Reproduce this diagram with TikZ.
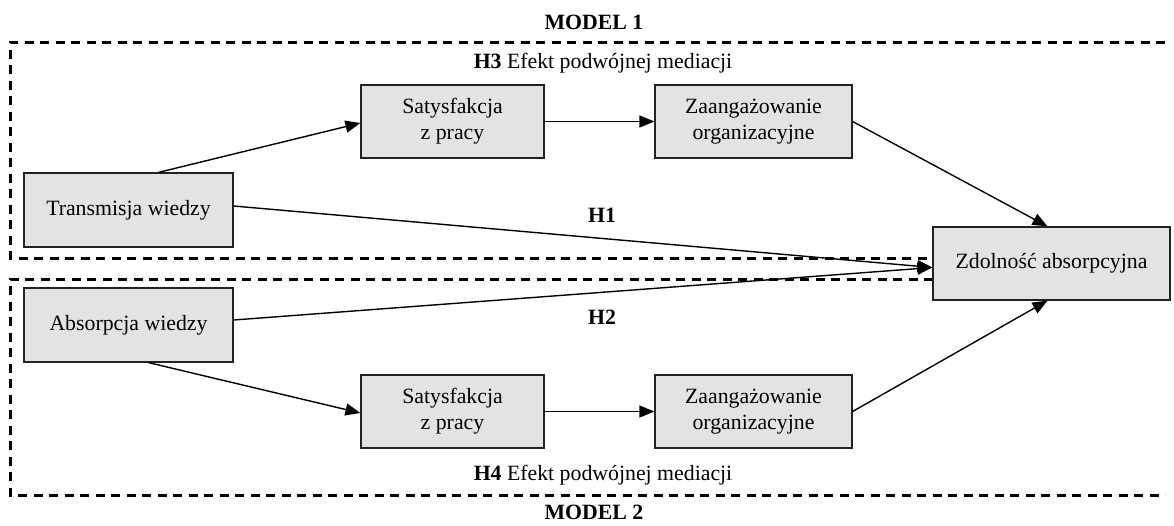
\documentclass[tikz,border=0pt]{standalone}
\usepackage{fontspec}
\setmainfont{Liberation Serif}
\usetikzlibrary{arrows.meta}
\definecolor{boxfill}{HTML}{E3E3E3}
\definecolor{boxline}{HTML}{222222}
\tikzset{
  var/.style={draw=boxline, line width=1.2pt, fill=boxfill, inner sep=0pt, align=center,
    font=\fontsize{21.8}{26}\selectfont},
  conn/.style={line width=1.4pt, -{Triangle[length=15pt,width=12pt]}},
  frame/.style={line width=3pt, dash pattern=on 9pt off 6.5pt},
  lbl/.style={inner sep=0pt, font=\fontsize{21.8}{26}\selectfont},
  blbl/.style={inner sep=0pt, font=\fontsize{21.8}{26}\selectfont\bfseries}
}
\begin{document}
\begin{tikzpicture}[x=1pt, y=-1pt]
\useasboundingbox (0,0) rectangle (1174,525);
% dashed frames
\coordinate (f1a) at (1165,42);
\coordinate (f1b) at (10,42);
\coordinate (f1c) at (10,258);
\coordinate (f1d) at (933,258);
\coordinate (f2a) at (933,279);
\coordinate (f2b) at (10,279);
\coordinate (f2c) at (10,495);
\coordinate (f2d) at (1165,495);
\draw[frame] (f1a) -- (f1b) -- (f1c) -- (f1d);
\draw[frame] (f2a) -- (f2b) -- (f2c) -- (f2d);
% nodes
\node[var, minimum width=209pt, minimum height=74pt] (trans) at (128.5,210) {Transmisja wiedzy};
\node[var, minimum width=209pt, minimum height=74pt] (abs) at (128.5,325) {Absorpcja wiedzy};
\node[var, minimum width=183pt, minimum height=73pt] (sat1) at (452.5,121.5) {Satysfakcja\\z pracy};
\node[var, minimum width=197pt, minimum height=73pt] (zaa1) at (753.5,121.5) {Zaangażowanie\\organizacyjne};
\node[var, minimum width=183pt, minimum height=73pt] (sat2) at (452.5,411.5) {Satysfakcja\\z pracy};
\node[var, minimum width=197pt, minimum height=73pt] (zaa2) at (753.5,411.5) {Zaangażowanie\\organizacyjne};
\node[var, minimum width=237pt, minimum height=73pt] (zdol) at (1051.5,263.5) {Zdolność absorpcyjna};
% labels
\node[blbl] (m1) at (594,22) {MODEL 1};
\node[blbl] (m2) at (594,512) {MODEL 2};
\node[lbl] (h3) at (603,63) {\textbf{H3} Efekt podwójnej mediacji};
\node[lbl] (h4) at (603,475) {\textbf{H4} Efekt podwójnej mediacji};
\node[blbl] (h1) at (602,215) {H1};
\node[blbl] (h2) at (602,317) {H2};
% connectors
\draw[conn] ([xshift=30pt]trans.north) -- ([yshift=-1.5pt]sat1.west);
\draw[conn] (sat1.east) -- (zaa1.west);
\draw[conn] (zaa1.east) -- ([xshift=-4pt]zdol.north);
\draw[conn] ([yshift=4pt]trans.east) -- ([yshift=-4pt]zdol.west);
\draw[conn] ([yshift=5pt]abs.east) -- ([yshift=-4pt]zdol.west);
\draw[conn] ([xshift=20pt]abs.south) -- ([yshift=-1.5pt]sat2.west);
\draw[conn] (sat2.east) -- (zaa2.west);
\draw[conn] (zaa2.east) -- ([xshift=-4pt]zdol.south);
\end{tikzpicture}
\end{document}
